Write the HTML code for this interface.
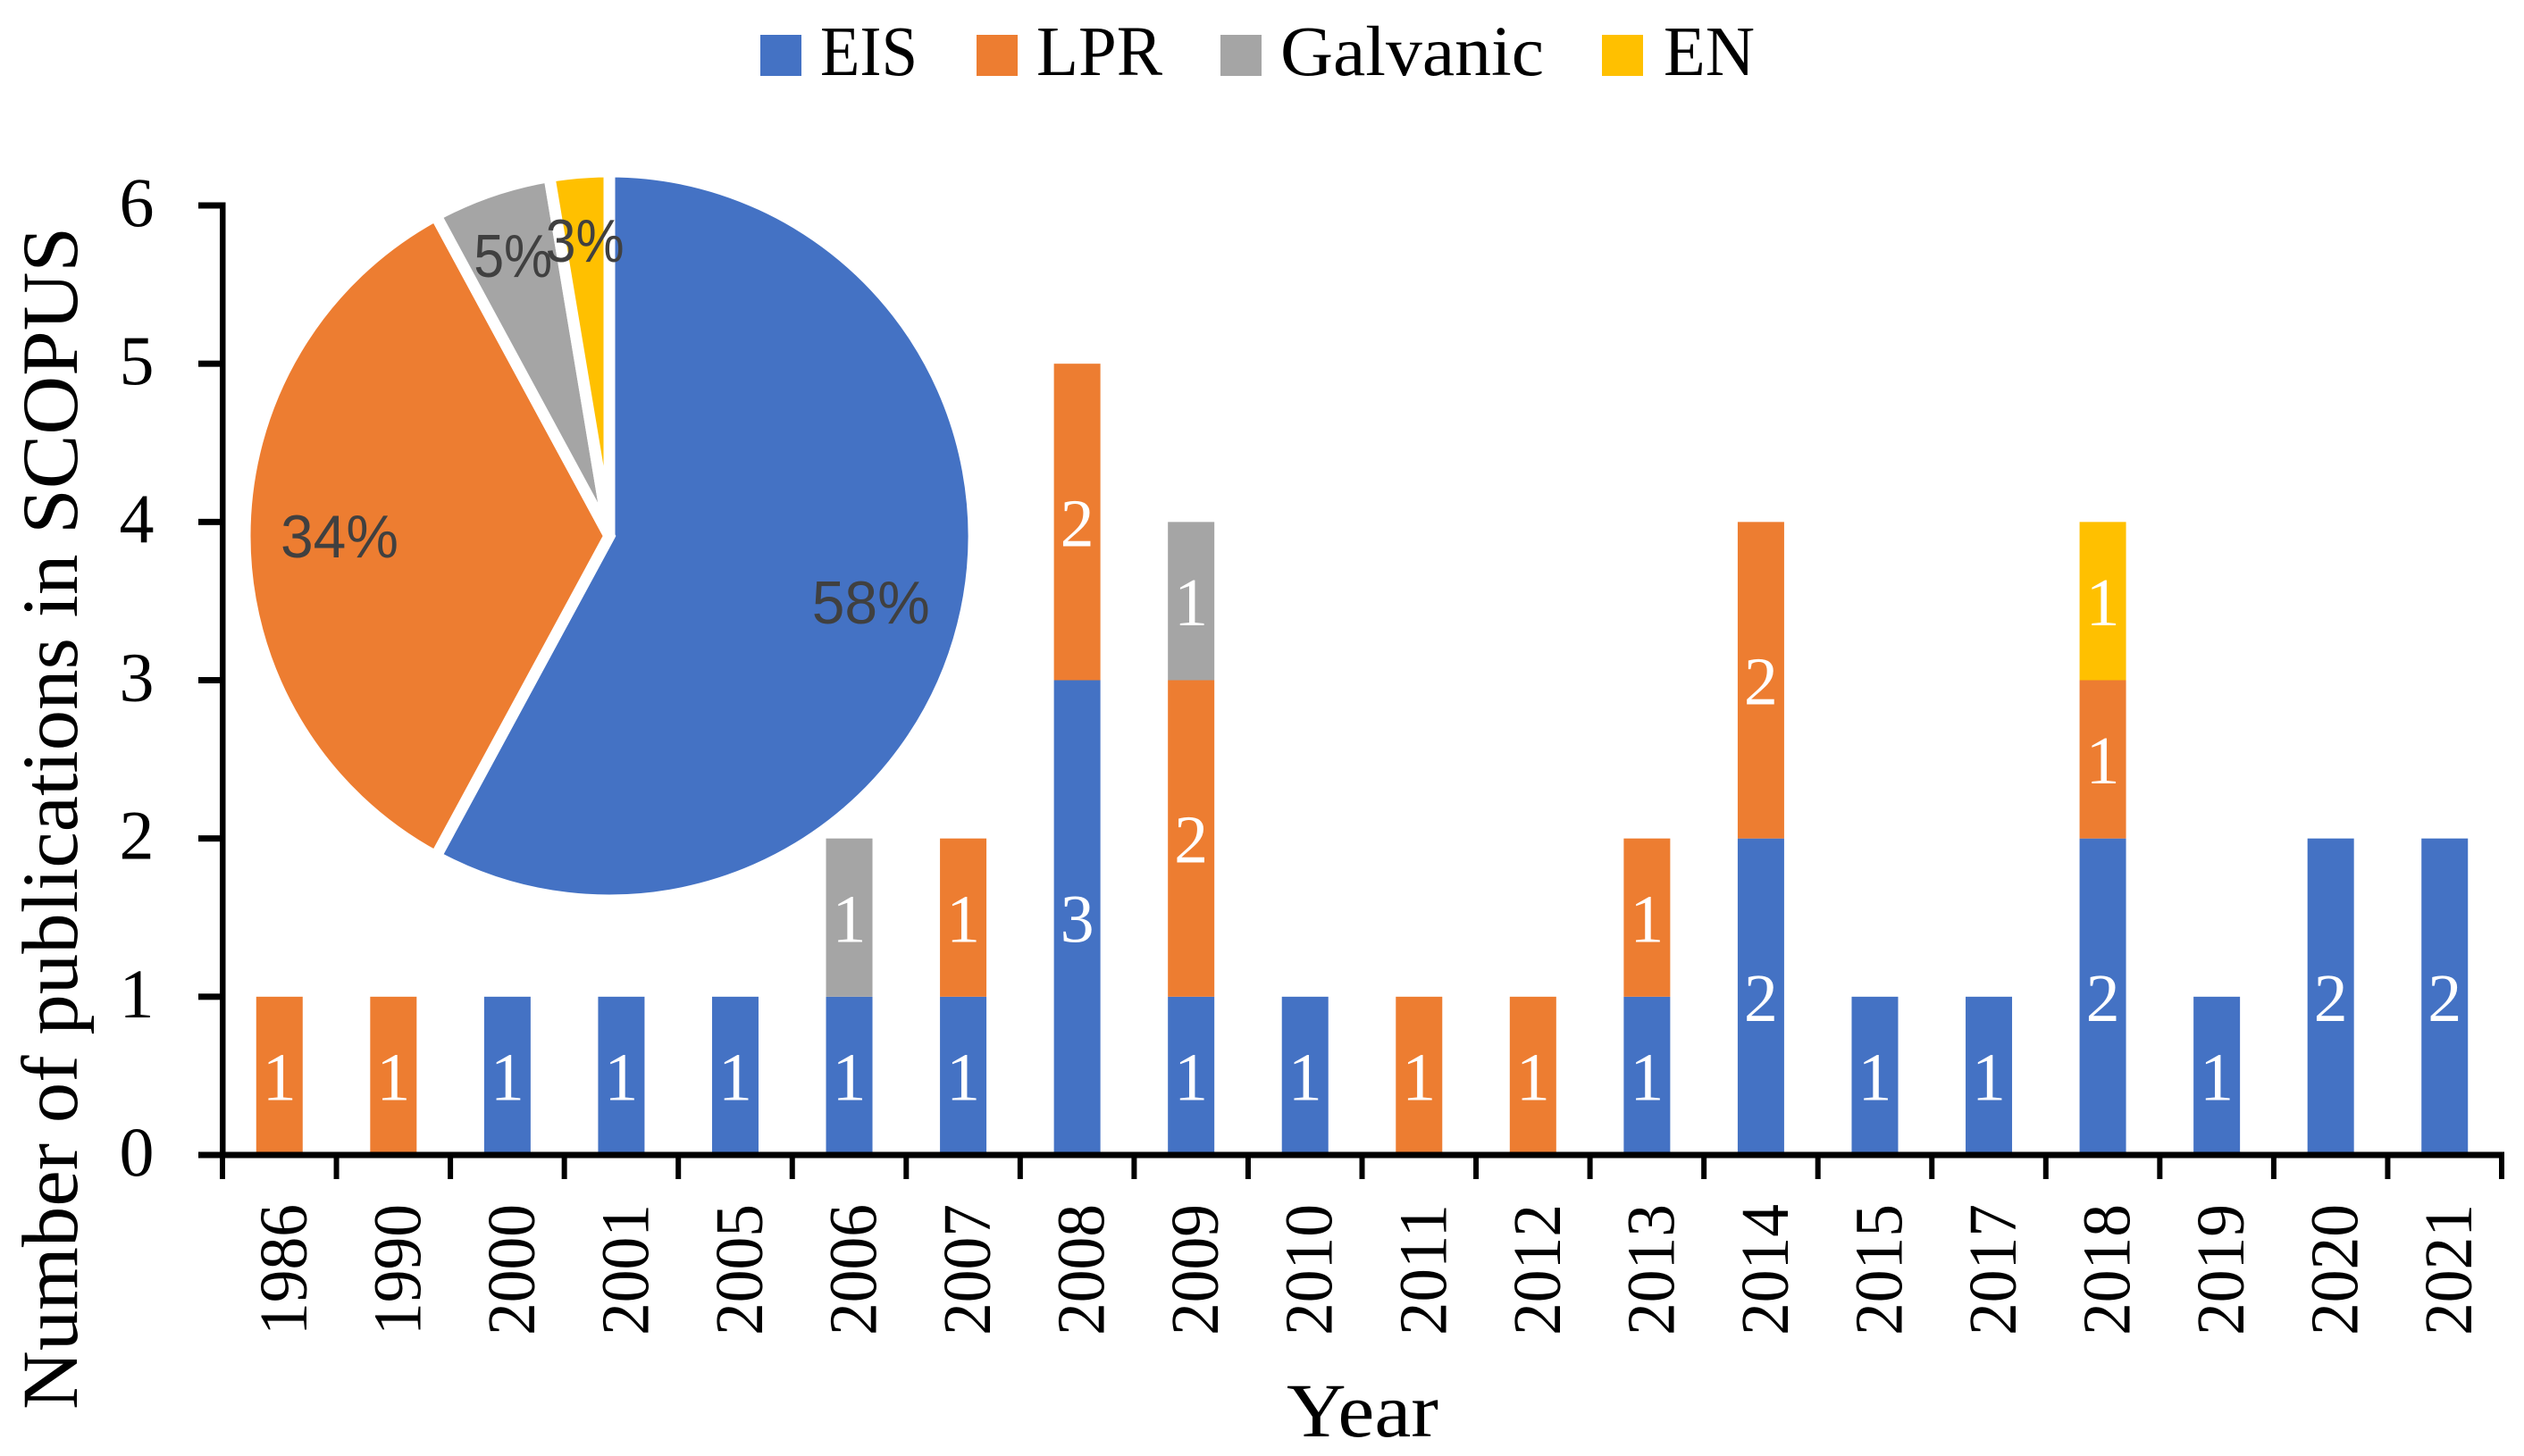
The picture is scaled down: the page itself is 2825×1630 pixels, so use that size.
<!DOCTYPE html>
<html lang="en">
<head>
<meta charset="utf-8">
<title>Number of publications in SCOPUS by year</title>
<style>
html,body{margin:0;padding:0;background:#fff;}
body{width:2825px;height:1630px;overflow:hidden;}
svg{display:block;}
text{font-family:"Liberation Serif",serif;fill:#000;}
</style>
</head>
<body>
<svg id="chart" xmlns="http://www.w3.org/2000/svg" width="2825" height="1630" viewBox="0 0 2825 1630">
  <rect x="0" y="0" width="2825" height="1630" fill="#ffffff"/>
  <g id="legend">
    <g>
      <rect x="851" y="39" width="46" height="46" fill="#4472c4"/>
      <text x="918" y="84" font-size="79" textLength="109" lengthAdjust="spacingAndGlyphs">EIS</text>
    </g>
    <g>
      <rect x="1093" y="39" width="46" height="46" fill="#ed7d31"/>
      <text x="1160" y="84" font-size="79" textLength="141" lengthAdjust="spacingAndGlyphs">LPR</text>
    </g>
    <g>
      <rect x="1366" y="39" width="46" height="46" fill="#a5a5a5"/>
      <text x="1433" y="84" font-size="79" textLength="295" lengthAdjust="spacingAndGlyphs">Galvanic</text>
    </g>
    <g>
      <rect x="1793" y="39" width="46" height="46" fill="#ffc000"/>
      <text x="1862" y="84" font-size="79" textLength="102" lengthAdjust="spacingAndGlyphs">EN</text>
    </g>
  </g>
  <g id="bars"></g>
  <g id="axes"></g>
  <g id="pie"></g>
  <text transform="translate(86 1578) rotate(-90)" font-size="89" textLength="1324" lengthAdjust="spacingAndGlyphs">Number of publications in SCOPUS</text>
  <text x="1440" y="1608" font-size="86" textLength="170" lengthAdjust="spacingAndGlyphs">Year</text>
</svg>
<script>
const categories = ["1986","1990","2000","2001","2005","2006","2007","2008","2009","2010","2011","2012","2013","2014","2015","2017","2018","2019","2020","2021"];
const eisValues =      [0,0,1,1,1,1,1,3,1,1,0,0,1,2,1,1,2,1,2,2];
const lprValues =      [1,1,0,0,0,0,1,2,2,0,1,1,1,2,0,0,1,0,0,0];
const galvanicValues = [0,0,0,0,0,1,0,0,1,0,0,0,0,0,0,0,0,0,0,0];
const enValues =       [0,0,0,0,0,0,0,0,0,0,0,0,0,0,0,0,1,0,0,0];
const yTicks = [0,1,2,3,4,5,6];
const pieNames = ["EIS","LPR","Galvanic","EN"];
const pieCounts = [22,13,2,1];
const pieLabels = ["58%","34%","5%","3%"];

const NS = "http://www.w3.org/2000/svg";
const plotLeft = 249, plotRight = 2800, plotBase = 1293, plotTop = 230, yMax = 6;
const barWidth = 52;
const pieCx = 682, pieCy = 600, pieR = 408, pieGap = 13;
const seriesList = [
  {key:"eis", values:eisValues, color:"#4472c4"},
  {key:"lpr", values:lprValues, color:"#ed7d31"},
  {key:"galvanic", values:galvanicValues, color:"#a5a5a5"},
  {key:"en", values:enValues, color:"#ffc000"}
];
const pieColors = ["#4472c4","#ed7d31","#a5a5a5","#ffc000"];

function yScale(v){ return plotBase - (plotBase - plotTop) * v / yMax; }
function bandStep(){ return (plotRight - plotLeft) / categories.length; }
function xBand(i){ return plotLeft + bandStep() * i; }
function xCenter(i){ return xBand(i) + bandStep() / 2; }
function mk(tag, attrs, parent, txt){
  const el = document.createElementNS(NS, tag);
  for (const k in attrs) el.setAttribute(k, attrs[k]);
  if (txt !== undefined) el.textContent = txt;
  parent.appendChild(el);
  return el;
}

const barsG = document.getElementById("bars");
const axesG = document.getElementById("axes");
const pieG = document.getElementById("pie");

categories.forEach(function(cat, i){
  let acc = 0;
  seriesList.forEach(function(s){
    const v = s.values[i];
    if (!v) return;
    const y0 = yScale(acc), y1 = yScale(acc + v);
    const rect = mk("rect", {x:xCenter(i) - barWidth/2, y:y1, width:barWidth, height:y0 - y1, fill:s.color}, barsG);
    
    
    const label = mk("text", {x:xCenter(i), y:(y0 + y1)/2 + 27, "text-anchor":"middle", "font-size":76, style:"fill:#ffffff"}, barsG, String(v));
    
    
    acc += v;
  });
});

const yAxisLine = mk("rect", {x:plotLeft - 3, y:yScale(yMax) - 3.5, width:6.5, height:plotBase - yScale(yMax) + 3.5, fill:"#000"}, axesG);


const xAxisLine = mk("rect", {x:222, y:plotBase - 3.5, width:plotRight + 3 - 222, height:7, fill:"#000"}, axesG);



yTicks.forEach(function(t){
  const tick = mk("rect", {x:222, y:yScale(t) - 3.5, width:plotLeft - 222, height:7, fill:"#000"}, axesG);
  
  
  const label = mk("text", {x:153, y:yScale(t) + 23, "text-anchor":"middle", "font-size":78}, axesG, String(t));
  
  
});

for (let i = 0; i <= categories.length; i++) {
  const tick = mk("rect", {x:xBand(i) - 3, y:plotBase, width:6, height:27, fill:"#000"}, axesG);
  
  
}
categories.forEach(function(cat, i){
  const bx = xCenter(i) + 30;
  const label = mk("text", {transform:"translate(" + bx + " 1495) rotate(-90)", "font-size":76, textLength:147, lengthAdjust:"spacingAndGlyphs"}, axesG, cat);
  
  
});

const pieTotal = pieCounts.reduce(function(a, b){ return a + b; }, 0);
let pieAcc = 0;
pieCounts.forEach(function(count, i){
  const frac = count / pieTotal;
  const a0 = pieAcc * 2 * Math.PI, a1 = (pieAcc + frac) * 2 * Math.PI;
  const x0 = pieCx + pieR * Math.sin(a0), y0 = pieCy - pieR * Math.cos(a0);
  const x1 = pieCx + pieR * Math.sin(a1), y1 = pieCy - pieR * Math.cos(a1);
  const large = frac > 0.5 ? 1 : 0;
  const d = "M" + pieCx + " " + pieCy + " L" + x0 + " " + y0 + " A" + pieR + " " + pieR + " 0 " + large + " 1 " + x1 + " " + y1 + " Z";
  const slice = mk("path", {d:d, fill:pieColors[i], stroke:"#ffffff", "stroke-width":pieGap, "stroke-linejoin":"miter"}, pieG);
  
  
  pieAcc += frac;
});
pieAcc = 0;
pieCounts.forEach(function(count, i){
  const frac = count / pieTotal;
  const mid = (pieAcc + frac / 2) * 2 * Math.PI;
  const rho = frac < 0.1 ? 332 : 302;
  const lx = pieCx + rho * Math.sin(mid), ly = pieCy - rho * Math.cos(mid);
  const labelWidth = pieLabels[i].length * 44;
  const label = mk("text", {x:lx, y:ly + 24, "text-anchor":"middle", "font-size":68, textLength:labelWidth, lengthAdjust:"spacingAndGlyphs", style:"fill:#404040;font-family:'Liberation Sans',sans-serif"}, pieG, pieLabels[i]);
  
  
  pieAcc += frac;
});
</script>
</body>
</html>
